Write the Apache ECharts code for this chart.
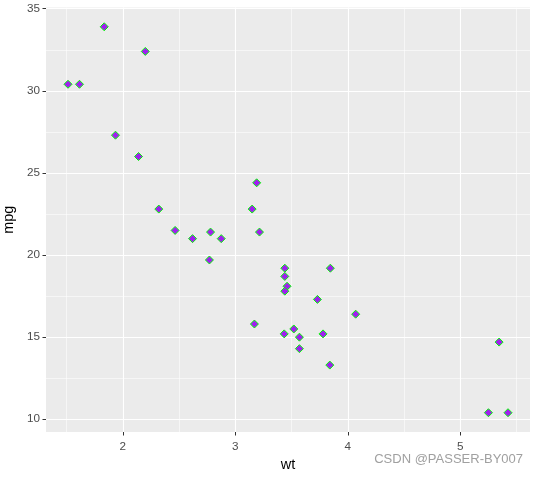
<!DOCTYPE html>
<html>
<head>
<meta charset="utf-8">
<script src="https://cdn.jsdelivr.net/npm/echarts@6/dist/echarts.min.js"></script>
<style>html,body{margin:0;padding:0;background:#fff}#c{width:538px;height:477px}</style>
</head>
<body>
<div id="c"></div>
<script>
// mtcars: wt vs mpg
const wt = [2.620, 2.875, 2.320, 3.215, 3.440, 3.460, 3.570, 3.190, 3.150, 3.440, 3.440, 4.070, 3.730, 3.780, 5.250, 5.424, 5.345, 2.200, 1.615, 1.835, 2.465, 3.520, 3.435, 3.840, 3.845, 1.935, 2.140, 1.513, 3.170, 2.770, 3.570, 2.780];
const mpg = [21.0, 21.0, 22.8, 21.4, 18.7, 18.1, 14.3, 24.4, 22.8, 19.2, 17.8, 16.4, 17.3, 15.2, 10.4, 10.4, 14.7, 32.4, 30.4, 33.9, 21.5, 15.5, 15.2, 13.3, 19.2, 27.3, 26.0, 30.4, 15.8, 19.7, 15.0, 21.4];
const xTicks = [2, 3, 4, 5];
const yTicks = [10, 15, 20, 25, 30, 35];
const xTitle = 'wt';
const yTitle = 'mpg';
const watermark = 'CSDN @PASSER-BY007';

function expand(arr) {
  const mn = Math.min(...arr), mx = Math.max(...arr), r = mx - mn;
  return [mn - 0.05 * r, mx + 0.05 * r];
}
const xr = expand(wt), yr = expand(mpg);
const font = 'Liberation Sans, Arial, sans-serif';

const chart = echarts.init(document.getElementById('c'));
chart.setOption({
  animation: false,
  backgroundColor: '#ffffff',
  grid: { left: 46, right: 8, top: 7.5, bottom: 45, containLabel: false, outerBoundsMode: 'none', show: true, backgroundColor: '#EBEBEB', borderWidth: 0 },
  xAxis: {
    type: 'value', min: xr[0], max: xr[1],
    name: xTitle, nameLocation: 'middle', nameGap: 23,
    nameTextStyle: { color: '#000', fontSize: 14.5, fontFamily: font },
    axisLine: { show: false },
    axisTick: { show: true, length: 3.5, lineStyle: { color: '#333333', width: 1 }, customValues: xTicks },
    axisLabel: { color: '#4D4D4D', fontSize: 11.7, fontFamily: font, margin: 9, customValues: xTicks },
    splitLine: { show: true, lineStyle: { color: '#FFFFFF', width: 1.1 } },
    minorTick: { show: false, splitNumber: 2 },
    minorSplitLine: { show: true, lineStyle: { color: '#FFFFFF', width: 0.55 } }
  },
  yAxis: {
    type: 'value', min: yr[0], max: yr[1],
    name: yTitle, nameLocation: 'middle', nameGap: 25, nameRotate: 90,
    nameTextStyle: { color: '#000', fontSize: 14.5, fontFamily: font },
    axisLine: { show: false },
    axisTick: { show: true, length: 3.5, lineStyle: { color: '#333333', width: 1 }, customValues: yTicks },
    axisLabel: { color: '#4D4D4D', fontSize: 11.7, fontFamily: font, margin: 6, customValues: yTicks, padding: [2, 0, 0, 0] },
    splitLine: { show: true, lineStyle: { color: '#FFFFFF', width: 1.1 } },
    minorTick: { show: false, splitNumber: 2 },
    minorSplitLine: { show: true, lineStyle: { color: '#FFFFFF', width: 0.55 } }
  },
  series: [{
    type: 'scatter',
    data: wt.map((w, i) => [w, mpg[i]]),
    symbol: 'diamond',
    symbolSize: 8,
    itemStyle: { color: '#A020F0', borderColor: '#00FF00', borderWidth: 1, opacity: 1 }
  }],
  graphic: [{
    type: 'text', right: 15, top: 453,
    style: { text: watermark, fill: '#A0A0A0', font: '13px ' + font }
  }]
});
</script>
</body>
</html>
